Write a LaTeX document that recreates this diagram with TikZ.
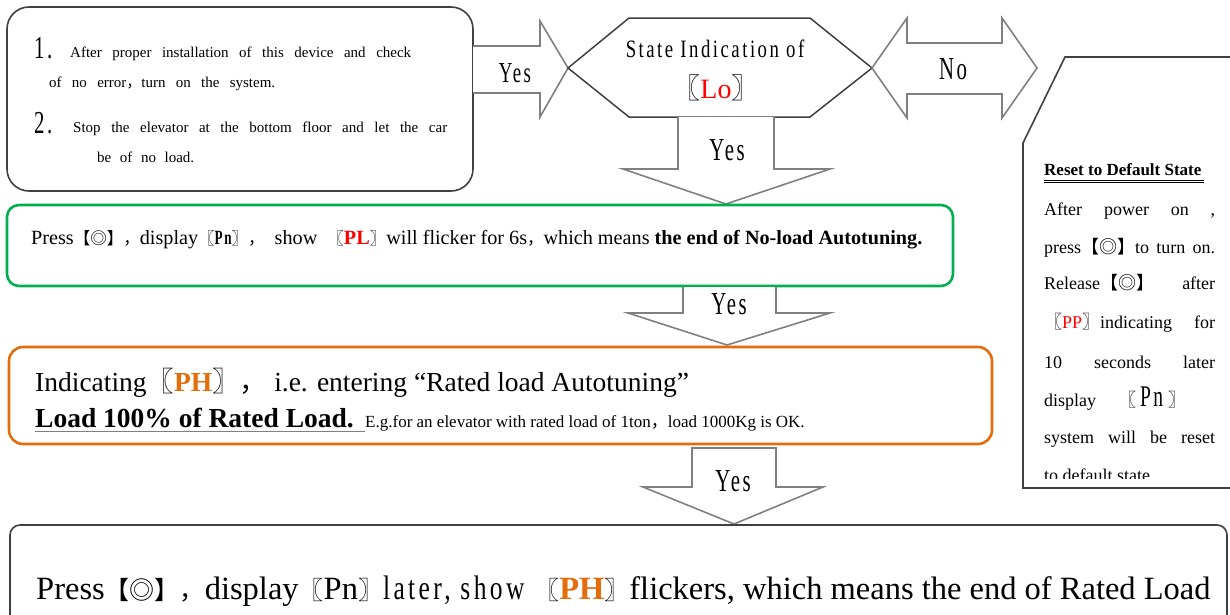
\documentclass[tikz,border=0pt]{standalone}
\usepackage{fontspec}
\setmainfont{Liberation Serif}
\newfontfamily\cjk{Noto Sans CJK SC}
\newfontfamily\simf[FakeStretch=0.65, LetterSpace=8]{Liberation Serif}
\newfontfamily\simg[FakeStretch=0.75, LetterSpace=10]{Liberation Serif}
\definecolor{gboxc}{RGB}{0,176,80}
\definecolor{oboxc}{RGB}{228,108,10}
\definecolor{redc}{RGB}{255,0,0}
\definecolor{arrowc}{RGB}{128,128,128}
\definecolor{boxc}{RGB}{64,64,64}
\newcommand\cj[1]{{\cjk #1}}
\newcommand\cjs[2]{{\cjk\fontsize{#1}{#1}\selectfont #2}}
\newcommand\fs[1]{\fontsize{#1}{#1}\selectfont}
\begin{document}
\begin{tikzpicture}[x=1pt,y=-1pt,
  txt/.style={inner sep=0pt, anchor=base west},
  ctxt/.style={inner sep=0pt, anchor=center},
  blockarrow/.style={draw=arrowc, line width=1.6pt, fill=white, line join=miter},
  darkbox/.style={draw=boxc, line width=1.6pt, fill=white, inner sep=0pt},
  greenbox/.style={draw=gboxc, line width=2.6pt, rounded corners=12pt, inner sep=0pt},
  orangebox/.style={draw=oboxc, line width=2.6pt, rounded corners=14pt, inner sep=0pt},
  yeslbl/.style={inner sep=0pt, anchor=center, font=\simf\fs{32}}]
\useasboundingbox (0,0) rectangle (1230,614);
\clip (0,0) rectangle (1230,614);

% ---------- top-left box ----------
\node[darkbox, rounded corners=22pt, minimum width=466pt, minimum height=184pt] (start) at (240,99) {};
\node[txt, font=\simf\fs{32}] (s1) at (34,58) {1.};
\node[txt, font=\fs{15}] (s1a) at (70,57) {\makebox[341pt][s]{After proper installation of this device and check}};
\node[txt, font=\fs{15}] (s1b) at (49,87) {\makebox[226pt][s]{of no error\cj{，}turn on the system.}};
\node[txt, font=\simf\fs{32}] (s2) at (34,133) {2.};
\node[txt, font=\fs{15}] (s2a) at (73,132) {\makebox[374pt][s]{Stop the elevator at the bottom floor and let the car}};
\node[txt, font=\fs{15}] (s2b) at (97,162) {\makebox[97pt][s]{be of no load.}};

% ---------- Yes arrow to hexagon ----------
\draw[blockarrow] (473,46) -- (540,46) -- (540,21) -- (568,68) -- (540,117) -- (540,93) -- (473,93);
\node[yeslbl, font=\simf\fs{29}] (y0) at (515,73) {Yes};

% ---------- hexagon ----------
\draw[draw=boxc, line width=1.5pt, fill=white, line join=miter] (568,68) -- (629,18) -- (810,18) -- (872,68) -- (810,117) -- (629,117) -- cycle;
\node[ctxt, font=\simg\fs{25}] (h1) at (715,49) {State Indication of};
\node[ctxt, font=\fs{28}] (h2) at (716,88) {\cj{〖}\textcolor{redc}{Lo}\cj{〗}};

% ---------- No double arrow ----------
\draw[blockarrow] (872,68) -- (907,18) -- (907,43) -- (1002,43) -- (1002,18) -- (1037,68) -- (1002,118) -- (1002,94) -- (907,94) -- (907,118) -- cycle;
\node[yeslbl] (no) at (953,69) {No};

% ---------- right panel ----------
\draw[draw=boxc, line width=1.6pt, line join=miter] (1235,57) -- (1065,57) -- (1023,143) -- (1023,488) -- (1235,488);
\node[txt, font=\bfseries\fs{17}] (rt) at (1044,175) {Reset to Default State};
\draw[line width=0.8pt] (1044,180) -- (1204,180);
\draw[line width=0.8pt] (1044,182.5) -- (1204,182.5);
\begin{scope}
\clip (1025,150) rectangle (1229,478.5);
\node[txt, font=\fs{18}] (r1) at (1044,215) {\makebox[171pt][s]{After power on ,}};
\node[txt, font=\fs{18}] (r2) at (1044,253) {\makebox[171pt][s]{press\cj{【◎】}to turn on.}};
\node[txt, font=\fs{18}] (r3) at (1044,289) {\makebox[171pt][s]{Release\cj{【◎】} after}};
\node[txt, font=\fs{18}] (r4) at (1044,328) {\makebox[171pt][s]{\cj{〖}\textcolor{redc}{PP}\cj{〗}indicating for}};
\node[txt, font=\fs{18}] (r5) at (1044,368) {\makebox[171pt][s]{10 seconds later}};
\node[txt, font=\fs{18}] (r6) at (1044,406) {display\hspace{22pt}\cj{〖}\hspace{4pt}{\simf\fs{30}Pn}\hspace{5pt}\cj{〗}};
\node[txt, font=\fs{18}] (r7) at (1044,443) {\makebox[171pt][s]{system will be reset}};
\node[txt, font=\fs{18}] (r8) at (1044,481) {to default state};
\end{scope}

% ---------- Yes arrow 1 (down) ----------
\draw[blockarrow] (678,117) -- (678,169) -- (623,169) -- (726,204) -- (830,169) -- (774,169) -- (774,117);
\node[yeslbl] (y1) at (727,150) {Yes};

% ---------- green box ----------
\node[greenbox, minimum width=946pt, minimum height=81pt] (noload) at (480,245.5) {};
\node[txt, font=\fs{20.2}] (gt) at (31,244) {Press\cjs{16.5}{【◎】，}display\cjs{16.5}{〖}{\simf\bfseries Pn}\cjs{16.5}{〗，}\ \ show \ \cjs{16.5}{〖}\textcolor{redc}{\textbf{PL}}\cjs{16.5}{〗}will flicker for 6s\cjs{16.5}{，}which means \textbf{the end of No-load Autotuning.}};

% ---------- Yes arrow 2 ----------
\draw[blockarrow] (683,287) -- (683,313) -- (628,313) -- (727,345) -- (830,313) -- (776,313) -- (776,287);
\node[yeslbl] (y2) at (729,304) {Yes};

% ---------- orange box ----------
\node[orangebox, minimum width=983pt, minimum height=97pt] (rated) at (500.5,395.5) {};
\node[txt, font=\fs{27.5}] (ot1) at (35,391) {Indicating\cj{〖}\textcolor{oboxc}{\textbf{PH}}\cj{〗，} i.e. entering “Rated load Autotuning”};
\node[txt, font=\fs{27.5}] (ot2) at (35,427) {\textbf{Load 100\% of Rated Load.}};
\draw[line width=1pt, draw=arrowc] (35,431) -- (365,431);
\node[txt, font=\fs{17}] (ot3) at (365,427) {E.g.for an elevator with rated load of 1ton\cj{，}load 1000Kg is OK.};

% ---------- Yes arrow 3 ----------
\draw[blockarrow] (692,448) -- (776,448) -- (776,487) -- (823,487) -- (734,524) -- (643,487) -- (692,487) -- cycle;
\node[yeslbl] (y3) at (733,481) {Yes};

% ---------- bottom box ----------
\node[darkbox, rounded corners=10pt, minimum width=1217pt, minimum height=155pt] (final) at (618.5,602.5) {};
\node[txt, font=\fs{32.5}] (bt) at (36,599) {Press\cjs{25}{【◎】，}display\cjs{25}{〖}Pn\cjs{25}{〗}{\simg\fs{34}later, show }\cjs{25}{〖}\textcolor{oboxc}{\textbf{PH}}\cjs{25}{〗}flickers, which means the end of Rated Load};
\end{tikzpicture}
\end{document}
